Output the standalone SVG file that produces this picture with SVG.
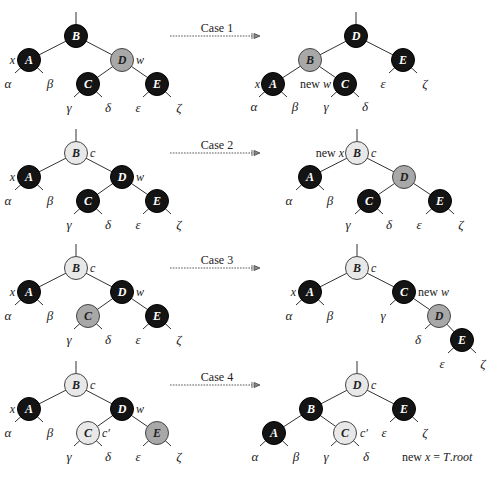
<svg xmlns="http://www.w3.org/2000/svg" width="499" height="477" viewBox="0 0 499 477">
<style>
.e{stroke:#333;stroke-width:1;fill:none}
.d{stroke:#444;stroke-width:0.9;stroke-dasharray:1.6 1.2;fill:none}
.blk{fill:#141414;stroke:#000;stroke-width:1}
.gry{fill:#a8a8a8;stroke:#444;stroke-width:1}
.lgt{fill:#e8e8e8;stroke:#444;stroke-width:1}
.n{font-family:"Liberation Serif",serif;font-style:italic;font-weight:bold;font-size:12px;text-anchor:middle}
.w{fill:#fff}
.k{fill:#222}
.g{font-family:"Liberation Serif",serif;font-style:italic;font-size:13px;text-anchor:middle;fill:#222}
.l{font-family:"Liberation Serif",serif;font-size:12px;fill:#222}
.i{font-style:italic}
.c{font-family:"Liberation Serif",serif;font-size:12px;text-anchor:middle;fill:#222}
</style>
<defs>
<marker id="ah" markerWidth="10" markerHeight="8" refX="1" refY="4" orient="auto" markerUnits="userSpaceOnUse">
<path d="M1,1 L1,7 M3,1.5 L9,4 L3,6.5 Z" stroke="#444" stroke-width="0.8" fill="#888"/>
</marker>
</defs>

<g id="connectors">
<!-- arrows -->
<line class="d" x1="170" y1="36" x2="252" y2="36" marker-end="url(#ah)"/>
<line class="d" x1="170" y1="153" x2="252" y2="153" marker-end="url(#ah)"/>
<line class="d" x1="170" y1="268" x2="252" y2="268" marker-end="url(#ah)"/>
<line class="d" x1="170" y1="385" x2="252" y2="385" marker-end="url(#ah)"/>

<!-- Case 1 left -->
<path class="e" d="M76,12V24 M76,36L29,60 M76,36L122,60 M122,60L88,84 M122,60L157,84 M29,60L15,73 M29,60L43,73 M88,84L74,97 M88,84L102,97 M157,84L143,97 M157,84L171,97"/>
<!-- Case 1 right -->
<path class="e" d="M356,12V24 M356,36L310,60 M356,36L403,60 M310,60L273,84 M310,60L345,84 M273,84L259,97 M273,84L287,97 M345,84L331,97 M345,84L359,97 M403,60L389,73 M403,60L417,73"/>

<!-- Case 2 left -->
<path class="e" d="M76,129V141 M76,153L29,177 M76,153L122,177 M122,177L88,201 M122,177L157,201 M29,177L15,190 M29,177L43,190 M88,201L74,214 M88,201L102,214 M157,201L143,214 M157,201L171,214"/>
<!-- Case 2 right -->
<path class="e" d="M357,129V141 M357,153L310,177 M357,153L404,177 M404,177L369,201 M404,177L440,201 M310,177L296,190 M310,177L324,190 M369,201L355,214 M369,201L383,214 M440,201L426,214 M440,201L454,214"/>

<!-- Case 3 left -->
<path class="e" d="M76,244V256 M76,268L29,292 M76,268L122,292 M122,292L88,316 M122,292L157,316 M29,292L15,305 M29,292L43,305 M88,316L74,329 M88,316L102,329 M157,316L143,329 M157,316L171,329"/>
<!-- Case 3 right -->
<path class="e" d="M357,244V256 M357,268L310,292 M357,268L404,292 M404,292L439,316 M439,316L462,340 M310,292L296,305 M310,292L324,305 M404,292L390,305 M439,316L425,329 M462,340L448,353 M462,340L476,353"/>

<!-- Case 4 left -->
<path class="e" d="M76,361V373 M76,385L29,409 M76,385L122,409 M122,409L88,433 M122,409L157,433 M29,409L15,422 M29,409L43,422 M88,433L74,446 M88,433L102,446 M157,433L143,446 M157,433L171,446"/>
<!-- Case 4 right -->
<path class="e" d="M357,361V373 M357,385L311,409 M357,385L404,409 M311,409L274,433 M311,409L345,433 M274,433L260,446 M274,433L288,446 M345,433L331,446 M345,433L359,446 M404,409L390,422 M404,409L418,422"/>
</g>

<!-- Case labels -->
<g id="case-labels">
<text class="c" x="217" y="32">Case 1</text>
<text class="c" x="217" y="149">Case 2</text>
<text class="c" x="217" y="264">Case 3</text>
<text class="c" x="217" y="381">Case 4</text>
</g>

<!-- ===== Case 1 left ===== -->
<g id="c1l-B"><circle class="blk" cx="76" cy="36" r="11.5"/><text class="n w" x="76" y="40">B</text></g>
<g id="c1l-A"><circle class="blk" cx="29" cy="60" r="11.5"/><text class="n w" x="29" y="64">A</text></g>
<g id="c1l-D"><circle class="gry" cx="122" cy="60" r="11.5"/><text class="n k" x="122" y="64">D</text></g>
<g id="c1l-C"><circle class="blk" cx="88" cy="84" r="11.5"/><text class="n w" x="88" y="88">C</text></g>
<g id="c1l-E"><circle class="blk" cx="157" cy="84" r="11.5"/><text class="n w" x="157" y="88">E</text></g>
<g id="c1l-labels">
<text class="l i" x="15" y="64" text-anchor="end">x</text>
<text class="l i" x="136" y="64">w</text>
<text class="g" x="8" y="88">α</text><text class="g" x="50" y="88">β</text>
<text class="g" x="69" y="112">γ</text><text class="g" x="108" y="112">δ</text>
<text class="g" x="138" y="112">ε</text><text class="g" x="179" y="112">ζ</text>
</g>

<!-- ===== Case 1 right ===== -->
<g id="c1r-D"><circle class="blk" cx="356" cy="36" r="11.5"/><text class="n w" x="356" y="40">D</text></g>
<g id="c1r-B"><circle class="gry" cx="310" cy="60" r="11.5"/><text class="n k" x="310" y="64">B</text></g>
<g id="c1r-E"><circle class="blk" cx="403" cy="60" r="11.5"/><text class="n w" x="403" y="64">E</text></g>
<g id="c1r-A"><circle class="blk" cx="273" cy="84" r="11.5"/><text class="n w" x="273" y="88">A</text></g>
<g id="c1r-C"><circle class="blk" cx="345" cy="84" r="11.5"/><text class="n w" x="345" y="88">C</text></g>
<g id="c1r-labels">
<text class="l i" x="260" y="88" text-anchor="end">x</text>
<text class="l" x="331" y="88" text-anchor="end">new <tspan class="i">w</tspan></text>
<text class="g" x="254" y="111">α</text><text class="g" x="295" y="111">β</text>
<text class="g" x="326" y="111">γ</text><text class="g" x="365" y="111">δ</text>
<text class="g" x="383" y="88">ε</text><text class="g" x="425" y="88">ζ</text>
</g>

<!-- ===== Case 2 left ===== -->
<g id="c2l-B"><circle class="lgt" cx="76" cy="153" r="11.5"/><text class="n k" x="76" y="157">B</text></g>
<g id="c2l-A"><circle class="blk" cx="29" cy="177" r="11.5"/><text class="n w" x="29" y="181">A</text></g>
<g id="c2l-D"><circle class="blk" cx="122" cy="177" r="11.5"/><text class="n w" x="122" y="181">D</text></g>
<g id="c2l-C"><circle class="blk" cx="88" cy="201" r="11.5"/><text class="n w" x="88" y="205">C</text></g>
<g id="c2l-E"><circle class="blk" cx="157" cy="201" r="11.5"/><text class="n w" x="157" y="205">E</text></g>
<g id="c2l-labels">
<text class="l i" x="90" y="157">c</text>
<text class="l i" x="15" y="181" text-anchor="end">x</text>
<text class="l i" x="136" y="181">w</text>
<text class="g" x="8" y="205">α</text><text class="g" x="50" y="205">β</text>
<text class="g" x="69" y="229">γ</text><text class="g" x="108" y="229">δ</text>
<text class="g" x="138" y="229">ε</text><text class="g" x="179" y="229">ζ</text>
</g>

<!-- ===== Case 2 right ===== -->
<g id="c2r-B"><circle class="lgt" cx="357" cy="153" r="11.5"/><text class="n k" x="357" y="157">B</text></g>
<g id="c2r-A"><circle class="blk" cx="310" cy="177" r="11.5"/><text class="n w" x="310" y="181">A</text></g>
<g id="c2r-D"><circle class="gry" cx="404" cy="177" r="11.5"/><text class="n k" x="404" y="181">D</text></g>
<g id="c2r-C"><circle class="blk" cx="369" cy="201" r="11.5"/><text class="n w" x="369" y="205">C</text></g>
<g id="c2r-E"><circle class="blk" cx="440" cy="201" r="11.5"/><text class="n w" x="440" y="205">E</text></g>
<g id="c2r-labels">
<text class="l" x="344" y="157" text-anchor="end">new <tspan class="i">x</tspan></text>
<text class="l i" x="371" y="157">c</text>
<text class="g" x="289" y="205">α</text><text class="g" x="330" y="205">β</text>
<text class="g" x="348" y="229">γ</text><text class="g" x="389" y="229">δ</text>
<text class="g" x="419" y="229">ε</text><text class="g" x="461" y="229">ζ</text>
</g>

<!-- ===== Case 3 left ===== -->
<g id="c3l-B"><circle class="lgt" cx="76" cy="268" r="11.5"/><text class="n k" x="76" y="272">B</text></g>
<g id="c3l-A"><circle class="blk" cx="29" cy="292" r="11.5"/><text class="n w" x="29" y="296">A</text></g>
<g id="c3l-D"><circle class="blk" cx="122" cy="292" r="11.5"/><text class="n w" x="122" y="296">D</text></g>
<g id="c3l-C"><circle class="gry" cx="88" cy="316" r="11.5"/><text class="n k" x="88" y="320">C</text></g>
<g id="c3l-E"><circle class="blk" cx="157" cy="316" r="11.5"/><text class="n w" x="157" y="320">E</text></g>
<g id="c3l-labels">
<text class="l i" x="90" y="272">c</text>
<text class="l i" x="15" y="296" text-anchor="end">x</text>
<text class="l i" x="136" y="296">w</text>
<text class="g" x="8" y="320">α</text><text class="g" x="50" y="320">β</text>
<text class="g" x="69" y="344">γ</text><text class="g" x="108" y="344">δ</text>
<text class="g" x="138" y="344">ε</text><text class="g" x="179" y="344">ζ</text>
</g>

<!-- ===== Case 3 right ===== -->
<g id="c3r-B"><circle class="lgt" cx="357" cy="268" r="11.5"/><text class="n k" x="357" y="272">B</text></g>
<g id="c3r-A"><circle class="blk" cx="310" cy="292" r="11.5"/><text class="n w" x="310" y="296">A</text></g>
<g id="c3r-C"><circle class="blk" cx="404" cy="292" r="11.5"/><text class="n w" x="404" y="296">C</text></g>
<g id="c3r-D"><circle class="gry" cx="439" cy="316" r="11.5"/><text class="n k" x="439" y="320">D</text></g>
<g id="c3r-E"><circle class="blk" cx="462" cy="340" r="11.5"/><text class="n w" x="462" y="344">E</text></g>
<g id="c3r-labels">
<text class="l i" x="371" y="272">c</text>
<text class="l i" x="296" y="296" text-anchor="end">x</text>
<text class="l" x="418" y="296">new <tspan class="i">w</tspan></text>
<text class="g" x="289" y="320">α</text><text class="g" x="330" y="320">β</text>
<text class="g" x="383" y="320">γ</text>
<text class="g" x="418" y="344">δ</text>
<text class="g" x="442" y="368">ε</text><text class="g" x="483" y="368">ζ</text>
</g>

<!-- ===== Case 4 left ===== -->
<g id="c4l-B"><circle class="lgt" cx="76" cy="385" r="11.5"/><text class="n k" x="76" y="389">B</text></g>
<g id="c4l-A"><circle class="blk" cx="29" cy="409" r="11.5"/><text class="n w" x="29" y="413">A</text></g>
<g id="c4l-D"><circle class="blk" cx="122" cy="409" r="11.5"/><text class="n w" x="122" y="413">D</text></g>
<g id="c4l-C"><circle class="lgt" cx="88" cy="433" r="11.5"/><text class="n k" x="88" y="437">C</text></g>
<g id="c4l-E"><circle class="gry" cx="157" cy="433" r="11.5"/><text class="n k" x="157" y="437">E</text></g>
<g id="c4l-labels">
<text class="l i" x="90" y="389">c</text>
<text class="l i" x="15" y="413" text-anchor="end">x</text>
<text class="l i" x="136" y="413">w</text>
<text class="l i" x="102" y="437">c′</text>
<text class="g" x="8" y="437">α</text><text class="g" x="50" y="437">β</text>
<text class="g" x="69" y="461">γ</text><text class="g" x="108" y="461">δ</text>
<text class="g" x="138" y="461">ε</text><text class="g" x="179" y="461">ζ</text>
</g>

<!-- ===== Case 4 right ===== -->
<g id="c4r-D"><circle class="lgt" cx="357" cy="385" r="11.5"/><text class="n k" x="357" y="389">D</text></g>
<g id="c4r-B"><circle class="blk" cx="311" cy="409" r="11.5"/><text class="n w" x="311" y="413">B</text></g>
<g id="c4r-E"><circle class="blk" cx="404" cy="409" r="11.5"/><text class="n w" x="404" y="413">E</text></g>
<g id="c4r-A"><circle class="blk" cx="274" cy="433" r="11.5"/><text class="n w" x="274" y="437">A</text></g>
<g id="c4r-C"><circle class="lgt" cx="345" cy="433" r="11.5"/><text class="n k" x="345" y="437">C</text></g>
<g id="c4r-labels">
<text class="l i" x="371" y="389">c</text>
<text class="l i" x="360" y="437">c′</text>
<text class="g" x="255" y="461">α</text><text class="g" x="296" y="461">β</text>
<text class="g" x="326" y="461">γ</text><text class="g" x="366" y="461">δ</text>
<text class="g" x="384" y="437">ε</text><text class="g" x="425" y="437">ζ</text>
<text class="l" x="402" y="461">new <tspan class="i">x</tspan> = <tspan class="i">T</tspan>.<tspan class="i">root</tspan></text>
</g>
</svg>
